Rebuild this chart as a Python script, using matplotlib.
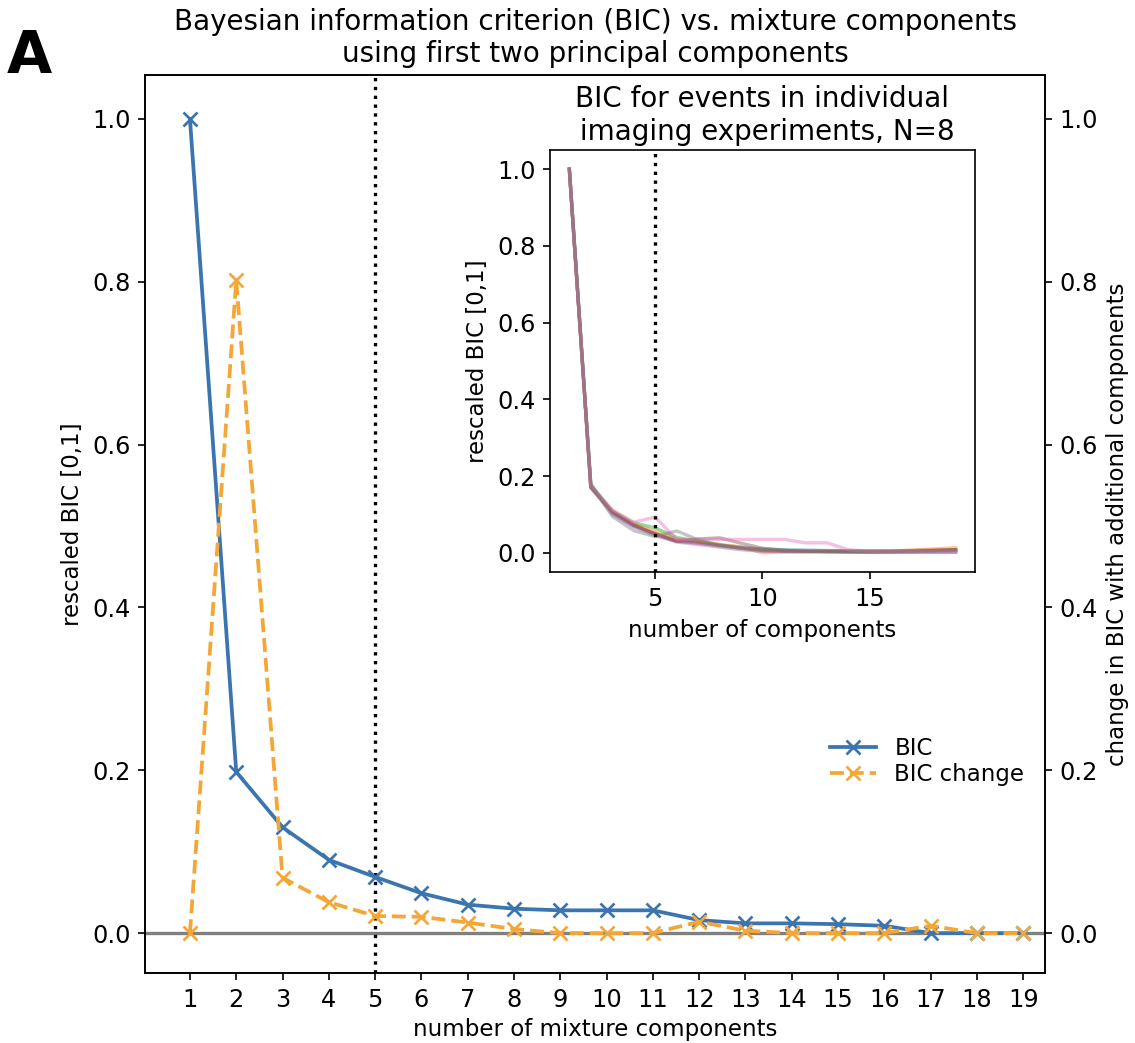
import matplotlib
matplotlib.use("Agg")
import matplotlib.pyplot as plt
import numpy as np

components = list(range(1, 20))
bic = [1.0, 0.198, 0.130, 0.090, 0.069, 0.049, 0.035, 0.030, 0.028, 0.028,
       0.028, 0.016, 0.012, 0.012, 0.011, 0.009, 0.0, 0.0, 0.0]
bic_change = [0.0, 0.802, 0.068, 0.038, 0.021, 0.020, 0.013, 0.005, 0.0, 0.0,
              0.0, 0.014, 0.003, 0.0, 0.0, 0.0, 0.009, 0.0, 0.0]

inset_series = [
    [1.0, 0.175, 0.105, 0.070, 0.050, 0.032, 0.028, 0.020, 0.015, 0.010, 0.008, 0.007, 0.006, 0.005, 0.004, 0.003, 0.003, 0.003, 0.003],
    [1.0, 0.172, 0.110, 0.075, 0.055, 0.035, 0.030, 0.022, 0.015, 0.000, 0.002, 0.003, 0.004, 0.004, 0.004, 0.005, 0.007, 0.010, 0.013],
    [1.0, 0.178, 0.108, 0.078, 0.065, 0.040, 0.030, 0.020, 0.012, 0.008, 0.006, 0.005, 0.004, 0.003, 0.002, 0.002, 0.003, 0.005, 0.007],
    [1.0, 0.170, 0.105, 0.072, 0.050, 0.030, 0.025, 0.018, 0.012, 0.006, 0.004, 0.003, 0.004, 0.005, 0.005, 0.005, 0.006, 0.007, 0.008],
    [1.0, 0.172, 0.100, 0.068, 0.045, 0.028, 0.022, 0.015, 0.008, 0.004, 0.003, 0.003, 0.002, 0.002, 0.001, 0.001, 0.001, 0.001, 0.001],
    [1.0, 0.170, 0.108, 0.072, 0.048, 0.030, 0.036, 0.039, 0.025, 0.012, 0.006, 0.004, 0.003, 0.002, 0.002, 0.003, 0.004, 0.006, 0.008],
    [1.0, 0.176, 0.112, 0.080, 0.093, 0.035, 0.035, 0.035, 0.035, 0.035, 0.035, 0.026, 0.026, 0.008, 0.004, 0.003, 0.002, 0.002, 0.002],
    [1.0, 0.180, 0.095, 0.058, 0.042, 0.057, 0.034, 0.020, 0.012, 0.008, 0.006, 0.004, 0.003, 0.003, 0.003, 0.004, 0.004, 0.005, 0.006],
]
inset_colors = ["C0", "C1", "C2", "C3", "C4", "C5", "C6", "C7"]

blue = "#3b75af"
orange = "#f4a637"

TICK = 11.5
LAB = 11
TITLE = 13.3

fig = plt.figure(figsize=(1135 / 150, 1043 / 150), dpi=150)
ax = fig.add_axes([0.1278, 0.0671, 0.7929, 0.861])
ax2 = ax.twinx()

ax.axhline(0, color="gray", lw=1.6, zorder=1)
ax.axvline(5, color="black", ls=":", lw=1.6, zorder=1)
l1, = ax.plot(components, bic, color=blue, marker="x", ms=7, mew=1.3, lw=1.8, label="BIC", zorder=3)
l2, = ax2.plot(components, bic_change, color=orange, marker="x", ms=7, mew=1.3, lw=1.8, ls="--", label="BIC change", zorder=3)

ax.set_xlim(0.03, 19.47)
ax.set_ylim(-0.049, 1.054)
ax2.set_ylim(-0.049, 1.054)
ax.set_xticks(components)
ax.set_xticklabels([str(c) for c in components])
ax.set_yticks([0.0, 0.2, 0.4, 0.6, 0.8, 1.0])
ax2.set_yticks([0.0, 0.2, 0.4, 0.6, 0.8, 1.0])
ax.tick_params(labelsize=TICK)
ax2.tick_params(labelsize=TICK)
ax.set_xlabel("number of mixture components", fontsize=LAB, labelpad=3)
ax.set_ylabel("rescaled BIC [0,1]", fontsize=LAB)
ax2.set_ylabel("change in BIC with additional components", fontsize=LAB)
ax.set_title("Bayesian information criterion (BIC) vs. mixture components\nusing first two principal components",
             fontsize=TITLE, pad=6)
ax2.legend(handles=[l1, l2], loc="lower right", bbox_to_anchor=(1.0, 0.185),
           frameon=False, fontsize=LAB, labelspacing=0.15)

fig.text(0.006, 0.973, "A", fontsize=28, fontweight="bold", va="top", ha="left")

ins = fig.add_axes([0.4846, 0.4516, 0.3744, 0.4046])
for s, c in zip(inset_series, inset_colors):
    ins.plot(components, s, color=c, alpha=0.45, lw=1.6)
ins.axvline(5, color="black", ls=":", lw=1.6)
ins.set_xticks([5, 10, 15])
ins.set_yticks([0.0, 0.2, 0.4, 0.6, 0.8, 1.0])
ins.tick_params(labelsize=TICK)
ins.set_xlabel("number of components", fontsize=LAB)
ins.set_ylabel("rescaled BIC [0,1]", fontsize=LAB)
ins.set_title("BIC for events in individual\n imaging experiments, N=8", fontsize=TITLE, pad=5)

fig.savefig("out.png", dpi=150)
